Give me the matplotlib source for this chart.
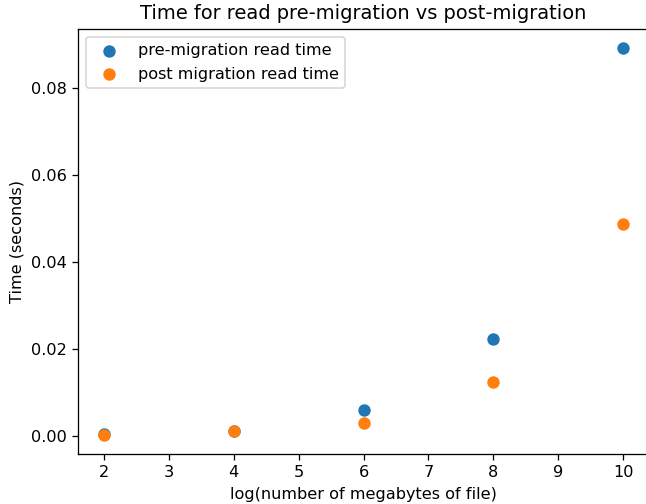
import matplotlib
matplotlib.use("Agg")
import matplotlib.pyplot as plt

sizes_log = [2, 4, 6, 8, 10]
pre_times = [0.0004, 0.0012, 0.0059, 0.0223, 0.0892]
post_times = [0.0003, 0.0012, 0.0031, 0.0124, 0.0487]

DPI = 116
fig = plt.figure(figsize=(646/DPI, 504/DPI), dpi=DPI)
ax = fig.add_axes([78/646, 1-454/504, (649-78)/646, (454-29)/504])
ax.scatter(sizes_log, pre_times, s=45, label="pre-migration read time")
ax.scatter(sizes_log, post_times, s=45, label="post migration read time")
ax.set_title("Time for read pre-migration vs post-migration")
ax.set_xlabel("log(number of megabytes of file)")
ax.set_ylabel("Time (seconds)")
ax.legend(loc="upper left")
fig.savefig("out.png", dpi=DPI)
